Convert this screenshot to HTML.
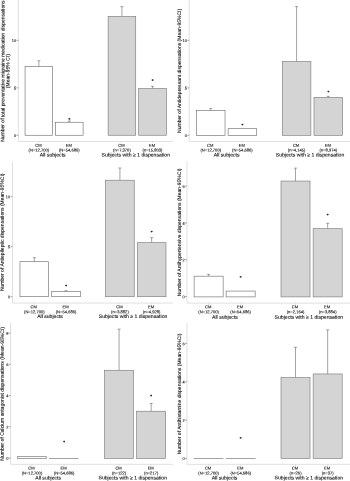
<!DOCTYPE html>
<html><head><meta charset="utf-8"><title>Figure</title>
<style>html,body{margin:0;padding:0;background:#fff}svg{display:block;text-rendering:geometricPrecision}text{stroke:#222;stroke-width:0.1px}</style></head>
<body>
<svg width="350" height="481" viewBox="0 0 350 481" font-family="'Liberation Sans', Arial, sans-serif">
<rect width="350" height="481" fill="#fff"/>
<path d="M18.40 -0.30V141.45H173.10" fill="none" stroke="#dcdcdc" stroke-width="0.9"/>
<path d="M16.50 135.25H18.40" stroke="#555" stroke-width="0.5"/>
<text transform="translate(16.10 136.90) rotate(0.03)" font-size="3.9" text-anchor="end" fill="#111">0</text>
<path d="M16.50 87.80H18.40" stroke="#555" stroke-width="0.5"/>
<text transform="translate(16.10 89.45) rotate(0.03)" font-size="3.9" text-anchor="end" fill="#111">5</text>
<path d="M16.50 40.35H18.40" stroke="#555" stroke-width="0.5"/>
<text transform="translate(16.10 42.00) rotate(0.03)" font-size="3.9" text-anchor="end" fill="#111">10</text>
<text transform="translate(4.40 71.20) rotate(-89.97)" font-size="5.03" text-anchor="middle" fill="#000">Number of total preventative migraine medication dispensations</text>
<text transform="translate(9.50 71.20) rotate(-89.97)" font-size="5.03" text-anchor="middle" fill="#000">(Mean-95% CI)</text>
<path d="M38.88 66.64V60.75M37.38 60.75H40.38" stroke="#666" stroke-width="0.6" fill="none"/>
<rect x="25.06" y="66.64" width="27.63" height="68.61" fill="#fff" stroke="#666" stroke-width="0.6"/>
<path d="M38.88 141.75V142.95" stroke="#c4c4c4" stroke-width="0.6"/>
<text transform="translate(38.38 146.65) rotate(0.03)" font-size="4.1" text-anchor="middle" fill="#000">CM</text>
<text transform="translate(38.88 151.55) rotate(0.03)" font-size="4.1" text-anchor="middle" fill="#000">(N=12,700)</text>
<path d="M69.28 122.25V121.02M67.78 121.02H70.78" stroke="#666" stroke-width="0.6" fill="none"/>
<rect x="55.46" y="122.25" width="27.63" height="13.00" fill="#fff" stroke="#666" stroke-width="0.6"/>
<text transform="translate(69.28 120.48) rotate(0.03)" font-size="3.4" font-family="'DejaVu Sans', 'Liberation Sans', sans-serif" font-weight="bold" text-anchor="middle" fill="#111" style="stroke:#1a1a1a;stroke-width:0.22px">*</text>
<path d="M69.28 141.75V142.95" stroke="#c4c4c4" stroke-width="0.6"/>
<text transform="translate(68.78 146.65) rotate(0.03)" font-size="4.1" text-anchor="middle" fill="#000">EM</text>
<text transform="translate(69.28 151.55) rotate(0.03)" font-size="4.1" text-anchor="middle" fill="#000">(N=54,686)</text>
<path d="M121.92 16.34V6.66M120.42 6.66H123.42" stroke="#666" stroke-width="0.6" fill="none"/>
<rect x="108.11" y="16.34" width="27.63" height="118.91" fill="#d4d4d4" stroke="#757575" stroke-width="0.6"/>
<path d="M121.92 141.75V142.95" stroke="#c4c4c4" stroke-width="0.6"/>
<text transform="translate(121.42 146.65) rotate(0.03)" font-size="4.1" text-anchor="middle" fill="#000">CM</text>
<text transform="translate(121.92 151.55) rotate(0.03)" font-size="4.1" text-anchor="middle" fill="#000">(n=7,370)</text>
<path d="M152.52 88.46V86.38M151.02 86.38H154.02" stroke="#666" stroke-width="0.6" fill="none"/>
<rect x="138.71" y="88.46" width="27.63" height="46.79" fill="#d4d4d4" stroke="#757575" stroke-width="0.6"/>
<text transform="translate(152.52 81.76) rotate(0.03)" font-size="3.4" font-family="'DejaVu Sans', 'Liberation Sans', sans-serif" font-weight="bold" text-anchor="middle" fill="#111" style="stroke:#1a1a1a;stroke-width:0.22px">*</text>
<path d="M152.52 141.75V142.95" stroke="#c4c4c4" stroke-width="0.6"/>
<text transform="translate(152.02 146.65) rotate(0.03)" font-size="4.1" text-anchor="middle" fill="#000">EM</text>
<text transform="translate(152.52 151.55) rotate(0.03)" font-size="4.1" text-anchor="middle" fill="#000">(n=15,803)</text>
<text transform="translate(52.70 156.50) rotate(0.03)" font-size="5.1" text-anchor="middle" fill="#000">All subjects</text>
<text transform="translate(135.80 156.50) rotate(0.03)" font-size="5.1" text-anchor="middle" fill="#000">Subjects with ≥ 1 dispensation</text>
<path d="M189.25 -0.30V141.45H351.00" fill="none" stroke="#dcdcdc" stroke-width="0.9"/>
<path d="M187.35 135.35H189.25" stroke="#555" stroke-width="0.5"/>
<text transform="translate(186.95 137.00) rotate(0.03)" font-size="3.9" text-anchor="end" fill="#111">0</text>
<path d="M187.35 87.85H189.25" stroke="#555" stroke-width="0.5"/>
<text transform="translate(186.95 89.50) rotate(0.03)" font-size="3.9" text-anchor="end" fill="#111">5</text>
<path d="M187.35 40.35H189.25" stroke="#555" stroke-width="0.5"/>
<text transform="translate(186.95 42.00) rotate(0.03)" font-size="3.9" text-anchor="end" fill="#111">10</text>
<text transform="translate(181.00 70.85) rotate(-89.97)" font-size="5.03" text-anchor="middle" fill="#000">Number of Antidepressant dispensations (Mean-95%CI)</text>
<path d="M210.72 110.65V108.46M209.22 108.46H212.22" stroke="#666" stroke-width="0.6" fill="none"/>
<rect x="196.41" y="110.65" width="28.62" height="24.70" fill="#fff" stroke="#666" stroke-width="0.6"/>
<path d="M210.72 141.75V142.95" stroke="#c4c4c4" stroke-width="0.6"/>
<text transform="translate(210.22 146.65) rotate(0.03)" font-size="4.1" text-anchor="middle" fill="#000">CM</text>
<text transform="translate(210.72 151.55) rotate(0.03)" font-size="4.1" text-anchor="middle" fill="#000">(N=12,700)</text>
<rect x="228.11" y="128.70" width="28.62" height="6.65" fill="#fff" stroke="#666" stroke-width="0.6"/>
<text transform="translate(242.42 126.16) rotate(0.03)" font-size="3.4" font-family="'DejaVu Sans', 'Liberation Sans', sans-serif" font-weight="bold" text-anchor="middle" fill="#111" style="stroke:#1a1a1a;stroke-width:0.22px">*</text>
<path d="M242.42 141.75V142.95" stroke="#c4c4c4" stroke-width="0.6"/>
<text transform="translate(241.92 146.65) rotate(0.03)" font-size="4.1" text-anchor="middle" fill="#000">EM</text>
<text transform="translate(242.42 151.55) rotate(0.03)" font-size="4.1" text-anchor="middle" fill="#000">(N=54,686)</text>
<path d="M296.58 61.53V6.62M295.08 6.62H298.08" stroke="#666" stroke-width="0.6" fill="none"/>
<rect x="282.27" y="61.53" width="28.62" height="73.81" fill="#d4d4d4" stroke="#757575" stroke-width="0.6"/>
<path d="M296.58 141.75V142.95" stroke="#c4c4c4" stroke-width="0.6"/>
<text transform="translate(296.08 146.65) rotate(0.03)" font-size="4.1" text-anchor="middle" fill="#000">CM</text>
<text transform="translate(296.58 151.55) rotate(0.03)" font-size="4.1" text-anchor="middle" fill="#000">(n=4,145)</text>
<path d="M328.28 97.35V96.40M326.78 96.40H329.78" stroke="#666" stroke-width="0.6" fill="none"/>
<rect x="313.97" y="97.35" width="28.62" height="38.00" fill="#d4d4d4" stroke="#757575" stroke-width="0.6"/>
<text transform="translate(328.28 93.20) rotate(0.03)" font-size="3.4" font-family="'DejaVu Sans', 'Liberation Sans', sans-serif" font-weight="bold" text-anchor="middle" fill="#111" style="stroke:#1a1a1a;stroke-width:0.22px">*</text>
<path d="M328.28 141.75V142.95" stroke="#c4c4c4" stroke-width="0.6"/>
<text transform="translate(327.78 146.65) rotate(0.03)" font-size="4.1" text-anchor="middle" fill="#000">EM</text>
<text transform="translate(328.28 151.55) rotate(0.03)" font-size="4.1" text-anchor="middle" fill="#000">(n=8,974)</text>
<text transform="translate(226.60 156.50) rotate(0.03)" font-size="5.1" text-anchor="middle" fill="#000">All subjects</text>
<text transform="translate(310.00 156.50) rotate(0.03)" font-size="5.1" text-anchor="middle" fill="#000">Subjects with ≥ 1 dispensation</text>
<path d="M12.46 161.50V303.05H172.90" fill="none" stroke="#dcdcdc" stroke-width="0.9"/>
<path d="M10.56 296.70H12.46" stroke="#555" stroke-width="0.5"/>
<text transform="translate(10.16 298.35) rotate(0.03)" font-size="3.9" text-anchor="end" fill="#111">0</text>
<path d="M10.56 246.70H12.46" stroke="#555" stroke-width="0.5"/>
<text transform="translate(10.16 248.35) rotate(0.03)" font-size="3.9" text-anchor="end" fill="#111">5</text>
<path d="M10.56 196.70H12.46" stroke="#555" stroke-width="0.5"/>
<text transform="translate(10.16 198.35) rotate(0.03)" font-size="3.9" text-anchor="end" fill="#111">10</text>
<text transform="translate(3.85 232.28) rotate(-89.97)" font-size="5.03" text-anchor="middle" fill="#000">Number of Antiepileptic dispensations (Mean-95%CI)</text>
<path d="M34.31 261.70V257.70M32.81 257.70H35.81" stroke="#666" stroke-width="0.6" fill="none"/>
<rect x="19.98" y="261.70" width="28.65" height="35.00" fill="#fff" stroke="#666" stroke-width="0.6"/>
<path d="M34.31 303.35V304.55" stroke="#c4c4c4" stroke-width="0.6"/>
<text transform="translate(33.81 308.25) rotate(0.03)" font-size="4.1" text-anchor="middle" fill="#000">CM</text>
<text transform="translate(34.31 313.15) rotate(0.03)" font-size="4.1" text-anchor="middle" fill="#000">(N=12,700)</text>
<path d="M66.04 291.60V290.70M64.54 290.70H67.54" stroke="#666" stroke-width="0.6" fill="none"/>
<rect x="51.71" y="291.60" width="28.65" height="5.10" fill="#fff" stroke="#666" stroke-width="0.6"/>
<text transform="translate(66.04 287.25) rotate(0.03)" font-size="3.4" font-family="'DejaVu Sans', 'Liberation Sans', sans-serif" font-weight="bold" text-anchor="middle" fill="#111" style="stroke:#1a1a1a;stroke-width:0.22px">*</text>
<path d="M66.04 303.35V304.55" stroke="#c4c4c4" stroke-width="0.6"/>
<text transform="translate(65.54 308.25) rotate(0.03)" font-size="4.1" text-anchor="middle" fill="#000">EM</text>
<text transform="translate(66.04 313.15) rotate(0.03)" font-size="4.1" text-anchor="middle" fill="#000">(N=54,686)</text>
<path d="M119.92 180.20V168.00M118.42 168.00H121.42" stroke="#666" stroke-width="0.6" fill="none"/>
<rect x="105.59" y="180.20" width="28.65" height="116.50" fill="#d4d4d4" stroke="#757575" stroke-width="0.6"/>
<path d="M119.92 303.35V304.55" stroke="#c4c4c4" stroke-width="0.6"/>
<text transform="translate(119.42 308.25) rotate(0.03)" font-size="4.1" text-anchor="middle" fill="#000">CM</text>
<text transform="translate(119.92 313.15) rotate(0.03)" font-size="4.1" text-anchor="middle" fill="#000">(n=3,882)</text>
<path d="M151.65 242.70V237.70M150.15 237.70H153.15" stroke="#666" stroke-width="0.6" fill="none"/>
<rect x="137.33" y="242.70" width="28.65" height="54.00" fill="#d4d4d4" stroke="#757575" stroke-width="0.6"/>
<text transform="translate(151.65 233.25) rotate(0.03)" font-size="3.4" font-family="'DejaVu Sans', 'Liberation Sans', sans-serif" font-weight="bold" text-anchor="middle" fill="#111" style="stroke:#1a1a1a;stroke-width:0.22px">*</text>
<path d="M151.65 303.35V304.55" stroke="#c4c4c4" stroke-width="0.6"/>
<text transform="translate(151.15 308.25) rotate(0.03)" font-size="4.1" text-anchor="middle" fill="#000">EM</text>
<text transform="translate(151.65 313.15) rotate(0.03)" font-size="4.1" text-anchor="middle" fill="#000">(n=4,928)</text>
<text transform="translate(50.00 318.10) rotate(0.03)" font-size="5.1" text-anchor="middle" fill="#000">All subjects</text>
<text transform="translate(133.06 318.10) rotate(0.03)" font-size="5.1" text-anchor="middle" fill="#000">Subjects with ≥ 1 dispensation</text>
<path d="M186.94 161.50V303.15H351.00" fill="none" stroke="#dcdcdc" stroke-width="0.9"/>
<path d="M185.04 296.60H186.94" stroke="#555" stroke-width="0.5"/>
<text transform="translate(184.64 298.25) rotate(0.03)" font-size="3.9" text-anchor="end" fill="#111">0</text>
<path d="M185.04 259.80H186.94" stroke="#555" stroke-width="0.5"/>
<text transform="translate(184.64 261.45) rotate(0.03)" font-size="3.9" text-anchor="end" fill="#111">2</text>
<path d="M185.04 223.00H186.94" stroke="#555" stroke-width="0.5"/>
<text transform="translate(184.64 224.65) rotate(0.03)" font-size="3.9" text-anchor="end" fill="#111">4</text>
<path d="M185.04 186.20H186.94" stroke="#555" stroke-width="0.5"/>
<text transform="translate(184.64 187.85) rotate(0.03)" font-size="3.9" text-anchor="end" fill="#111">6</text>
<text transform="translate(181.00 232.32) rotate(-89.97)" font-size="5.03" text-anchor="middle" fill="#000">Number of Antihypertensive dispensations (Mean-95%CI)</text>
<path d="M208.62 276.18V274.34M207.12 274.34H210.12" stroke="#666" stroke-width="0.6" fill="none"/>
<rect x="194.11" y="276.18" width="29.03" height="20.72" fill="#fff" stroke="#666" stroke-width="0.6"/>
<path d="M208.62 303.45V304.65" stroke="#c4c4c4" stroke-width="0.6"/>
<text transform="translate(208.12 308.35) rotate(0.03)" font-size="4.1" text-anchor="middle" fill="#000">CM</text>
<text transform="translate(208.62 313.25) rotate(0.03)" font-size="4.1" text-anchor="middle" fill="#000">(N=12,700)</text>
<rect x="226.11" y="291.08" width="29.03" height="5.82" fill="#fff" stroke="#666" stroke-width="0.6"/>
<text transform="translate(240.63 278.46) rotate(0.03)" font-size="3.4" font-family="'DejaVu Sans', 'Liberation Sans', sans-serif" font-weight="bold" text-anchor="middle" fill="#111" style="stroke:#1a1a1a;stroke-width:0.22px">*</text>
<path d="M240.63 303.45V304.65" stroke="#c4c4c4" stroke-width="0.6"/>
<text transform="translate(240.13 308.35) rotate(0.03)" font-size="4.1" text-anchor="middle" fill="#000">EM</text>
<text transform="translate(240.63 313.25) rotate(0.03)" font-size="4.1" text-anchor="middle" fill="#000">(N=54,686)</text>
<path d="M295.51 181.05V168.17M294.01 168.17H297.01" stroke="#666" stroke-width="0.6" fill="none"/>
<rect x="281.00" y="181.05" width="29.03" height="115.85" fill="#d4d4d4" stroke="#757575" stroke-width="0.6"/>
<path d="M295.51 303.45V304.65" stroke="#c4c4c4" stroke-width="0.6"/>
<text transform="translate(295.01 308.35) rotate(0.03)" font-size="4.1" text-anchor="middle" fill="#000">CM</text>
<text transform="translate(295.51 313.25) rotate(0.03)" font-size="4.1" text-anchor="middle" fill="#000">(n=2,164)</text>
<path d="M327.67 228.70V223.37M326.17 223.37H329.17" stroke="#666" stroke-width="0.6" fill="none"/>
<rect x="313.15" y="228.70" width="29.03" height="68.20" fill="#d4d4d4" stroke="#757575" stroke-width="0.6"/>
<text transform="translate(327.67 216.27) rotate(0.03)" font-size="3.4" font-family="'DejaVu Sans', 'Liberation Sans', sans-serif" font-weight="bold" text-anchor="middle" fill="#111" style="stroke:#1a1a1a;stroke-width:0.22px">*</text>
<path d="M327.67 303.45V304.65" stroke="#c4c4c4" stroke-width="0.6"/>
<text transform="translate(327.17 308.35) rotate(0.03)" font-size="4.1" text-anchor="middle" fill="#000">EM</text>
<text transform="translate(327.67 313.25) rotate(0.03)" font-size="4.1" text-anchor="middle" fill="#000">(n=3,884)</text>
<text transform="translate(224.97 318.80) rotate(0.03)" font-size="5.1" text-anchor="middle" fill="#000">All subjects</text>
<text transform="translate(308.86 318.80) rotate(0.03)" font-size="5.1" text-anchor="middle" fill="#000">Subjects with ≥ 1 dispensation</text>
<path d="M10.60 322.50V464.34H173.00" fill="none" stroke="#dcdcdc" stroke-width="0.9"/>
<path d="M8.70 458.10H10.60" stroke="#555" stroke-width="0.5"/>
<text transform="translate(8.30 459.75) rotate(0.03)" font-size="3.9" text-anchor="end" fill="#111">0</text>
<path d="M8.70 426.84H10.60" stroke="#555" stroke-width="0.5"/>
<text transform="translate(8.30 428.49) rotate(0.03)" font-size="3.9" text-anchor="end" fill="#111">2</text>
<path d="M8.70 395.58H10.60" stroke="#555" stroke-width="0.5"/>
<text transform="translate(8.30 397.23) rotate(0.03)" font-size="3.9" text-anchor="end" fill="#111">4</text>
<path d="M8.70 364.32H10.60" stroke="#555" stroke-width="0.5"/>
<text transform="translate(8.30 365.97) rotate(0.03)" font-size="3.9" text-anchor="end" fill="#111">6</text>
<path d="M8.70 333.06H10.60" stroke="#555" stroke-width="0.5"/>
<text transform="translate(8.30 334.71) rotate(0.03)" font-size="3.9" text-anchor="end" fill="#111">8</text>
<text transform="translate(3.85 393.90) rotate(-89.97)" font-size="5.03" text-anchor="middle" fill="#000">Number of Calcium antagonist dispensations (Mean-95%CI)</text>
<rect x="17.46" y="456.71" width="29.00" height="1.64" fill="#fff" stroke="#666" stroke-width="0.6"/>
<path d="M31.96 464.64V465.84" stroke="#c4c4c4" stroke-width="0.6"/>
<text transform="translate(31.46 469.54) rotate(0.03)" font-size="4.1" text-anchor="middle" fill="#000">CM</text>
<text transform="translate(31.96 474.44) rotate(0.03)" font-size="4.1" text-anchor="middle" fill="#000">(N=12,700)</text>
<rect x="49.58" y="458.35" width="29.00" height="0.01" fill="#fff" stroke="#666" stroke-width="0.6"/>
<text transform="translate(64.08 443.14) rotate(0.03)" font-size="3.4" font-family="'DejaVu Sans', 'Liberation Sans', sans-serif" font-weight="bold" text-anchor="middle" fill="#111" style="stroke:#1a1a1a;stroke-width:0.22px">*</text>
<path d="M64.08 464.64V465.84" stroke="#c4c4c4" stroke-width="0.6"/>
<text transform="translate(63.58 469.54) rotate(0.03)" font-size="4.1" text-anchor="middle" fill="#000">EM</text>
<text transform="translate(64.08 474.44) rotate(0.03)" font-size="4.1" text-anchor="middle" fill="#000">(N=54,686)</text>
<path d="M119.07 370.26V329.15M117.57 329.15H120.57" stroke="#666" stroke-width="0.6" fill="none"/>
<rect x="104.56" y="370.26" width="29.00" height="88.09" fill="#d4d4d4" stroke="#757575" stroke-width="0.6"/>
<path d="M119.07 464.64V465.84" stroke="#c4c4c4" stroke-width="0.6"/>
<text transform="translate(118.57 469.54) rotate(0.03)" font-size="4.1" text-anchor="middle" fill="#000">CM</text>
<text transform="translate(119.07 474.44) rotate(0.03)" font-size="4.1" text-anchor="middle" fill="#000">(n=122)</text>
<path d="M151.19 411.21V403.55M149.69 403.55H152.69" stroke="#666" stroke-width="0.6" fill="none"/>
<rect x="136.69" y="411.21" width="29.00" height="47.14" fill="#d4d4d4" stroke="#757575" stroke-width="0.6"/>
<text transform="translate(151.19 397.29) rotate(0.03)" font-size="3.4" font-family="'DejaVu Sans', 'Liberation Sans', sans-serif" font-weight="bold" text-anchor="middle" fill="#111" style="stroke:#1a1a1a;stroke-width:0.22px">*</text>
<path d="M151.19 464.64V465.84" stroke="#c4c4c4" stroke-width="0.6"/>
<text transform="translate(150.69 469.54) rotate(0.03)" font-size="4.1" text-anchor="middle" fill="#000">EM</text>
<text transform="translate(151.19 474.44) rotate(0.03)" font-size="4.1" text-anchor="middle" fill="#000">(n=217)</text>
<text transform="translate(48.17 479.39) rotate(0.03)" font-size="5.1" text-anchor="middle" fill="#000">All subjects</text>
<text transform="translate(132.80 479.39) rotate(0.03)" font-size="5.1" text-anchor="middle" fill="#000">Subjects with ≥ 1 dispensation</text>
<path d="M186.94 322.50V464.34H351.00" fill="none" stroke="#dcdcdc" stroke-width="0.9"/>
<path d="M185.04 458.40H186.94" stroke="#555" stroke-width="0.5"/>
<text transform="translate(184.64 460.05) rotate(0.03)" font-size="3.9" text-anchor="end" fill="#111">0</text>
<path d="M185.04 420.10H186.94" stroke="#555" stroke-width="0.5"/>
<text transform="translate(184.64 421.75) rotate(0.03)" font-size="3.9" text-anchor="end" fill="#111">2</text>
<path d="M185.04 381.80H186.94" stroke="#555" stroke-width="0.5"/>
<text transform="translate(184.64 383.45) rotate(0.03)" font-size="3.9" text-anchor="end" fill="#111">4</text>
<path d="M185.04 343.50H186.94" stroke="#555" stroke-width="0.5"/>
<text transform="translate(184.64 345.15) rotate(0.03)" font-size="3.9" text-anchor="end" fill="#111">6</text>
<text transform="translate(181.00 394.00) rotate(-89.97)" font-size="5.03" text-anchor="middle" fill="#000">Number of Antihistamine dispensations (Mean-95%CI)</text>
<rect x="194.06" y="458.40" width="29.03" height="0.01" fill="#fff" stroke="#666" stroke-width="0.6"/>
<path d="M208.57 464.64V465.84" stroke="#c4c4c4" stroke-width="0.6"/>
<text transform="translate(208.07 469.54) rotate(0.03)" font-size="4.1" text-anchor="middle" fill="#000">CM</text>
<text transform="translate(208.57 474.44) rotate(0.03)" font-size="4.1" text-anchor="middle" fill="#000">(N=12,700)</text>
<rect x="226.21" y="458.40" width="29.03" height="0.01" fill="#fff" stroke="#666" stroke-width="0.6"/>
<text transform="translate(240.73 439.55) rotate(0.03)" font-size="3.4" font-family="'DejaVu Sans', 'Liberation Sans', sans-serif" font-weight="bold" text-anchor="middle" fill="#111" style="stroke:#1a1a1a;stroke-width:0.22px">*</text>
<path d="M240.73 464.64V465.84" stroke="#c4c4c4" stroke-width="0.6"/>
<text transform="translate(240.23 469.54) rotate(0.03)" font-size="4.1" text-anchor="middle" fill="#000">EM</text>
<text transform="translate(240.73 474.44) rotate(0.03)" font-size="4.1" text-anchor="middle" fill="#000">(N=54,686)</text>
<path d="M295.51 377.59V347.33M294.01 347.33H297.01" stroke="#666" stroke-width="0.6" fill="none"/>
<rect x="281.00" y="377.59" width="29.03" height="80.81" fill="#d4d4d4" stroke="#757575" stroke-width="0.6"/>
<path d="M295.51 464.64V465.84" stroke="#c4c4c4" stroke-width="0.6"/>
<text transform="translate(295.01 469.54) rotate(0.03)" font-size="4.1" text-anchor="middle" fill="#000">CM</text>
<text transform="translate(295.51 474.44) rotate(0.03)" font-size="4.1" text-anchor="middle" fill="#000">(n=26)</text>
<path d="M327.67 373.95V329.90M326.17 329.90H329.17" stroke="#666" stroke-width="0.6" fill="none"/>
<rect x="313.15" y="373.95" width="29.03" height="84.45" fill="#d4d4d4" stroke="#757575" stroke-width="0.6"/>
<path d="M327.67 464.64V465.84" stroke="#c4c4c4" stroke-width="0.6"/>
<text transform="translate(327.17 469.54) rotate(0.03)" font-size="4.1" text-anchor="middle" fill="#000">EM</text>
<text transform="translate(327.67 474.44) rotate(0.03)" font-size="4.1" text-anchor="middle" fill="#000">(n=37)</text>
<text transform="translate(224.50 479.39) rotate(0.03)" font-size="5.1" text-anchor="middle" fill="#000">All subjects</text>
<text transform="translate(308.86 479.39) rotate(0.03)" font-size="5.1" text-anchor="middle" fill="#000">Subjects with ≥ 1 dispensation</text>
</svg>
</body></html>
